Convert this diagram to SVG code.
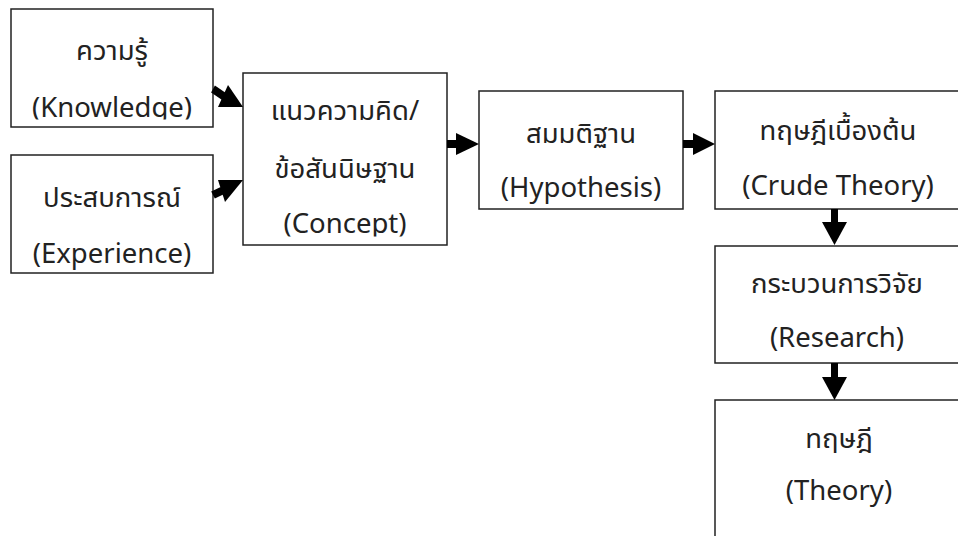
<svg xmlns="http://www.w3.org/2000/svg" width="958" height="536" viewBox="0 0 958 536">
<style>
.box{fill:#fff;stroke:#222;stroke-width:1.5}
.t{font-family:"Noto Sans","Noto Sans Thai","Liberation Sans",sans-serif;font-size:27.5px;fill:#222;text-anchor:middle}
.arr{fill:#000}
</style>
<defs>
<clipPath id="c1"><rect x="11" y="9" width="202" height="110.5"/></clipPath>
<clipPath id="c3"><rect x="243" y="73" width="204" height="163.5"/></clipPath>
</defs>
<rect width="958" height="536" fill="#fff"/>
<g id="n1"><rect class="box" x="11" y="9" width="202" height="118"/>
<g clip-path="url(#c1)"><text class="t" x="112" y="60">ความรู้</text><text class="t" x="112" y="117">(Knowledge)</text></g></g>
<g id="n2"><rect class="box" x="11" y="155" width="202" height="118"/>
<text class="t" x="112" y="207">ประสบการณ์</text><text class="t" x="112" y="263">(Experience)</text></g>
<g id="n3"><rect class="box" x="243" y="73" width="204" height="172"/>
<g clip-path="url(#c3)"><text class="t" x="345" y="120">แนวความคิด/</text><text class="t" x="345" y="178">ข้อสันนิษฐาน</text><text class="t" x="345" y="233">(Concept)</text></g></g>
<g id="n4"><rect class="box" x="479" y="91" width="204" height="118"/>
<text class="t" x="581" y="143">สมมติฐาน</text><text class="t" x="581" y="197">(Hypothesis)</text></g>
<g id="n5"><rect class="box" x="715" y="91" width="260" height="118"/>
<text class="t" x="838" y="140">ทฤษฎีเบื้องต้น</text><text class="t" x="838" y="195">(Crude Theory)</text></g>
<g id="n6"><rect class="box" x="715" y="246" width="260" height="117"/>
<text class="t" x="837" y="293">กระบวนการวิจัย</text><text class="t" x="837" y="347">(Research)</text></g>
<g id="n7"><rect class="box" x="715" y="400" width="260" height="160"/>
<text class="t" x="839" y="448">ทฤษฎี</text><text class="t" x="839" y="500">(Theory)</text></g>
<g id="connectors">
<polygon class="arr" points="211.1,92.5 214.9,85.5 225.9,93 222.1,100"/>
<polygon class="arr" points="228,85 243,107 218,107"/>
<polygon class="arr" points="214.8,198.6 211.2,191.4 220.7,186.9 224.3,194.1"/>
<polygon class="arr" points="218,180 243,180 225,202"/>
<polygon class="arr" points="447,140 458,140 458,148 447,148"/>
<polygon class="arr" points="456,133 479,144 456,155"/>
<polygon class="arr" points="683,140 694,140 694,148 683,148"/>
<polygon class="arr" points="693,133 715,144 693,155"/>
<polygon class="arr" points="831,209 838,209 838,223 831,223"/>
<polygon class="arr" points="822,222 847,222 834.5,245"/>
<polygon class="arr" points="831,363 838,363 838,378 831,378"/>
<polygon class="arr" points="822,377 847,377 834.5,400"/>
</g>
</svg>
